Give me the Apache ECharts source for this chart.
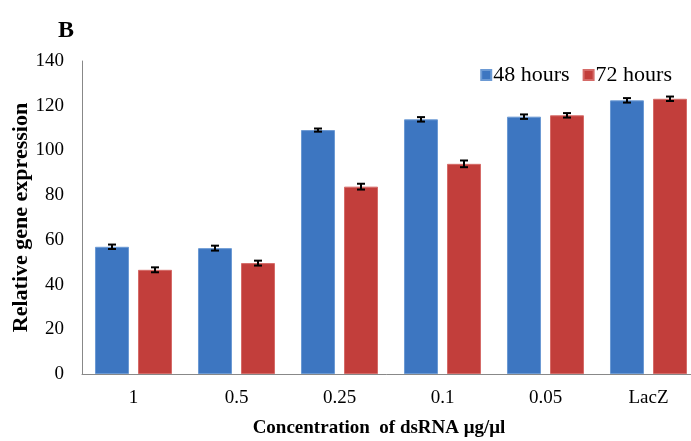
<!DOCTYPE html>
<html>
<head>
<meta charset="utf-8">
<script src="https://cdn.jsdelivr.net/npm/echarts@6/dist/echarts.min.js"></script>
<style>
  html, body { margin: 0; padding: 0; background: #fff; }
  #main { width: 691px; height: 441px; }
</style>
</head>
<body>
<div id="main"></div>
<script>
// concentrations of dsRNA (µg/µl)
var categories = ['1', '0.5', '0.25', '0.1', '0.05', 'LacZ'];
var hours48 = [56.9, 56.3, 109.1, 113.9, 115.1, 122.4];
var hours72 = [46.6, 49.6, 83.8, 94.0, 115.7, 123.1];
var err48 = [1.0, 1.1, 0.7, 1.0, 1.0, 1.0];
var err72 = [1.1, 1.1, 1.3, 1.5, 1.0, 1.0];
var yTicks = [0, 20, 40, 60, 80, 100, 120, 140];

var BLUE = '#3d76c1';
var RED = '#c23e3b';
var BAR_W = 34;
var BAR_GAP = 9;

var dom = document.getElementById('main');
var myChart = echarts.init(dom);

// error bar drawn with a custom series, shifted onto its own bar
function errorBars(values, errs, side) {
    var data = values.map(function (v, i) { return [i, v - errs[i], v + errs[i]]; });
    return {
        type: 'custom',
        silent: true,
        z: 10,
        data: data,
        encode: { x: 0, y: [1, 2] },
        renderItem: function (params, api) {
            var lo = api.coord([api.value(0), api.value(1)]);
            var hi = api.coord([api.value(0), api.value(2)]);
            var x = lo[0] + side * (BAR_W + BAR_GAP) / 2;
            var cap = 4;
            var st = { stroke: '#000', lineWidth: 2 };
            return {
                type: 'group',
                children: [
                    { type: 'line', shape: { x1: x, y1: lo[1], x2: x, y2: hi[1] }, style: st },
                    { type: 'line', shape: { x1: x - cap, y1: lo[1], x2: x + cap, y2: lo[1] }, style: st },
                    { type: 'line', shape: { x1: x - cap, y1: hi[1], x2: x + cap, y2: hi[1] }, style: st }
                ]
            };
        }
    };
}

var serif = '"Liberation Serif", "DejaVu Serif", serif';

var option = {
    animation: false,
    textStyle: { fontFamily: serif },
    title: {
        text: 'B',
        left: 53,
        top: 14,
        textStyle: { fontFamily: serif, fontSize: 24, fontWeight: 'bold', color: '#000' }
    },
    legend: {
        right: 14,
        top: 59,
        itemWidth: 10,
        itemHeight: 10,
        itemGap: 13,
        icon: 'rect',
        textStyle: { fontFamily: serif, fontSize: 22, color: '#000', padding: [0, 0, 0, -3] },
        data: ['48 hours', '72 hours']
    },
    grid: { left: 82, top: 61, width: 618, height: 313, outerBoundsMode: 'none', containLabel: false },
    xAxis: {
        type: 'category',
        data: categories,
        name: 'Concentration  of dsRNA μg/μl',
        nameLocation: 'middle',
        nameGap: 45,
        nameTextStyle: { fontFamily: serif, fontSize: 19, fontWeight: 'bold', color: '#000', padding: [0, 24, 0, 0] },
        axisLine: { lineStyle: { color: '#888', width: 1 } },
        axisTick: { show: false },
        axisLabel: { fontFamily: serif, fontSize: 19, color: '#000', margin: 15 }
    },
    yAxis: {
        type: 'value',
        min: 0,
        max: 140,
        interval: 20,
        name: 'Relative gene expression',
        nameLocation: 'middle',
        nameGap: 50,
        nameMoveOverlap: false,
        nameTextStyle: { fontFamily: serif, fontSize: 22, fontWeight: 'bold', color: '#000' },
        axisLine: { show: true, lineStyle: { color: '#888', width: 1 } },
        axisTick: { show: false },
        splitLine: { show: false },
        axisLabel: {
            fontFamily: serif, fontSize: 19, color: '#000', margin: 18,
            formatter: function (v) { return yTicks.indexOf(v) >= 0 ? String(v) : ''; }
        }
    },
    series: [
        {
            name: '48 hours',
            type: 'bar',
            data: hours48,
            barWidth: BAR_W,
            barGap: (BAR_GAP / BAR_W * 100).toFixed(1) + '%',
            itemStyle: { color: BLUE, borderColor: '#6c9ad4', borderWidth: 1 }
        },
        {
            name: '72 hours',
            type: 'bar',
            data: hours72,
            barWidth: BAR_W,
            itemStyle: { color: RED, borderColor: '#d56b68', borderWidth: 1 }
        },
        errorBars(hours48, err48, -1),
        errorBars(hours72, err72, 1)
    ]
};

if (option && typeof option === 'object') {
    myChart.setOption(option);
}
</script>
</body>
</html>
